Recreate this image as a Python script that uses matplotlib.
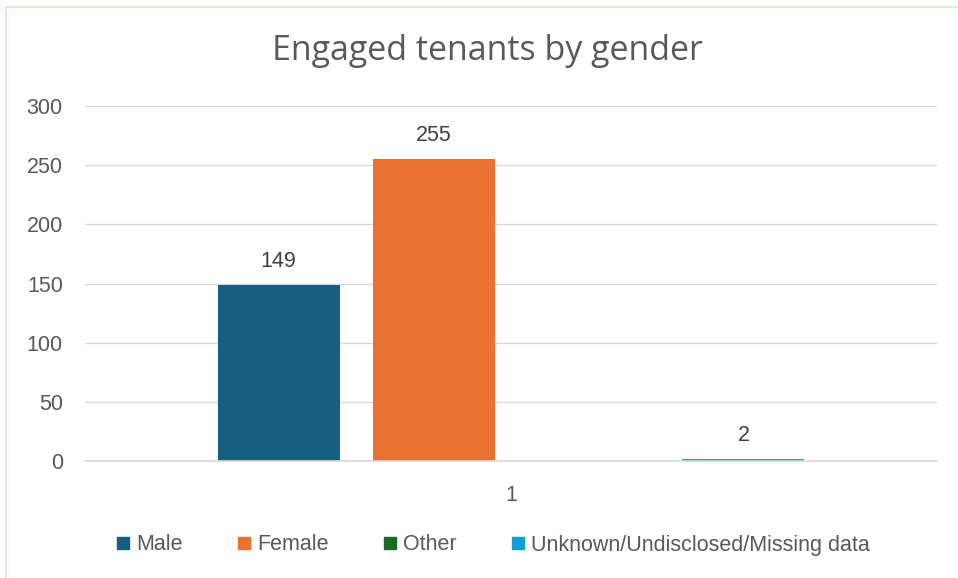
import matplotlib
matplotlib.use("Agg")
import matplotlib.pyplot as plt
from matplotlib.lines import Line2D
import numpy as np

categories = ["1"]
series = ["Male", "Female", "Other", "Unknown/Undisclosed/Missing data"]
values = [149, 255, None, 2]
colors = ["#156082", "#E97132", "#196B24", "#0F9ED5"]
yticks = [0, 50, 100, 150, 200, 250, 300]

plt.rcParams["font.family"] = ["Liberation Sans", "DejaVu Sans"]
text_col = "#595959"

fig = plt.figure(figsize=(9.58, 5.78), dpi=100)
ax = fig.add_axes([85 / 958, 1 - 461 / 578, 852 / 958, 355 / 578])

width = 0.1432
step = 0.1819
x = np.arange(len(categories))
for i, (name, val, col) in enumerate(zip(series, values, colors)):
    pos = x + (i - 1.5) * step
    if val is None:
        ax.bar(pos, [0], width, color=col, label=name)
        continue
    ax.bar(pos, [val], width, color=col, label=name)
    ax.text(pos[0], val + 11, str(val), ha="center", va="bottom",
            fontsize=15.5, color="#404040")

ax.set_xlim(-0.5, 0.5)
ax.set_ylim(0, 300)
ax.set_yticks(yticks)
ax.set_xticks(x)
ax.set_xticklabels(categories)
ax.tick_params(axis="both", length=0, labelsize=15.5, labelcolor=text_col)
ax.tick_params(axis="x", pad=17)
ax.tick_params(axis="y", pad=16)
ax.grid(axis="y", color="#d9d9d9", linewidth=1)
ax.set_axisbelow(True)
for side in ["top", "right", "left"]:
    ax.spines[side].set_visible(False)
ax.spines["bottom"].set_color("#d9d9d9")
ax.spines["bottom"].set_linewidth(1.2)

fig.text(487 / 958, 1 - 51 / 578, "Engaged tenants by gender", ha="center", va="center",
         fontsize=24.5, color=text_col, family=["Open Sans", "DejaVu Sans"])

handles = [Line2D([], [], marker="s", linestyle="", markersize=9,
                  markerfacecolor=c, markeredgecolor=c) for c in colors]
fig.legend(handles, series, loc="center", bbox_to_anchor=(493 / 958, 1 - 545 / 578),
           ncol=4, frameon=False, handlelength=0.6, handletextpad=0.3,
           columnspacing=2.55, prop={"size": 15.5}, labelcolor=text_col)

# light green chart border (left and top)
fig.add_artist(Line2D([6 / 958, 6 / 958], [0, 1 - 7 / 578], color="#d9f2d0",
                      linewidth=1.5, transform=fig.transFigure))
fig.add_artist(Line2D([6 / 958, 1], [1 - 7 / 578, 1 - 7 / 578], color="#d9f2d0",
                      linewidth=1.5, transform=fig.transFigure))

fig.savefig("out.png", dpi=100)
